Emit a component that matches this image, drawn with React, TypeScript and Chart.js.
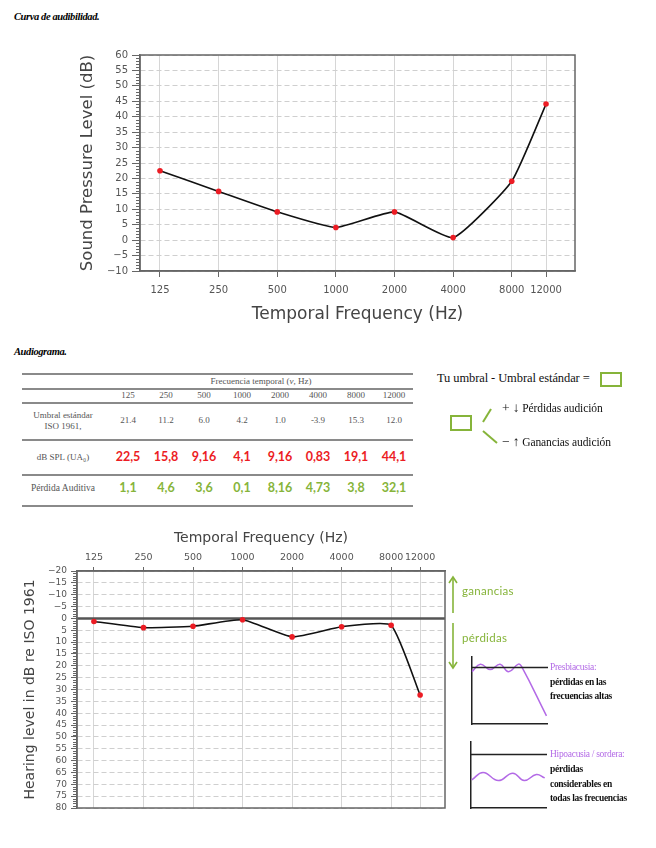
import React, { useEffect, useRef } from 'react';
import { Chart, registerables } from 'chart.js';

Chart.register(...registerables);

// ---------- data ----------
const freqs = [125, 250, 500, 1000, 2000, 4000, 8000, 12000];
const splValues = [22.5, 15.8, 9.16, 4.1, 9.16, 0.83, 19.1, 44.1];
const hearingLevel = [1.3, 3.9, 3.3, 0.6, 7.8, 3.5, 2.9, 32.3];

const isoThreshold = ['21.4', '11.2', '6.0', '4.2', '1.0', '-3.9', '15.3', '12.0'];
const splLabels = ['22,5', '15,8', '9,16', '4,1', '9,16', '0,83', '19,1', '44,1'];
const lossLabels = ['1,1', '4,6', '3,6', '0,1', '8,16', '4,73', '3,8', '32,1'];

// sketch curves (arbitrary 0..10 units)
const presbyRefX = [0, 10];
const presbyRefY = [8.3, 8.3];
const presbyWaveX = [0, 1.1, 2.4, 3.7, 4.8, 6.1, 6.5, 9.8];
const presbyWaveY = [7.7, 8.8, 8.0, 8.8, 7.7, 8.8, 8.5, 1.2];
const hipoRefX = [0, 10];
const hipoRefY = [8.0, 8.0];
const hipoWaveX = [0.1, 1.6, 3.6, 5.5, 7.0, 8.6, 9.7];
const hipoWaveY = [4.2, 5.3, 4.1, 5.2, 4.1, 5.0, 4.5];

// ---------- helpers ----------
const SANS = 'DejaVu Sans';
const SERIF = '"Liberation Serif", "DejaVu Serif", serif';
const HAND = 'Lato, "Noto Sans", sans-serif';
const RED = '#ec1c24';
const GREEN = '#86b43a';
const PURPLE = '#b36ae6';

const fmtNum = (v: any) => (Number(v) < 0 ? '\u2212' + Math.abs(Number(v)) : String(v));

const framePlugin = {
  id: 'frame',
  beforeDatasetsDraw(chart: any, _a: any, opts: any) {
    if (!opts || !opts.zeroLine) return;
    const { ctx, chartArea: a } = chart;
    const y = chart.scales.y;
    const py = y.getPixelForValue(0);
    ctx.save();
    ctx.strokeStyle = '#555';
    ctx.lineWidth = 2.5;
    ctx.beginPath();
    ctx.moveTo(a.left, py);
    ctx.lineTo(a.right, py);
    ctx.stroke();
    ctx.restore();
  },
  afterDraw(chart: any) {
    const { ctx, chartArea: a } = chart;
    const y = chart.scales.y;
    ctx.save();
    ctx.strokeStyle = '#666';
    ctx.lineWidth = 1;
    for (let v = Math.ceil(Math.min(y.min, y.max)); v <= Math.max(y.min, y.max); v++) {
      if (v % 5 === 0) continue;
      const py = Math.round(y.getPixelForValue(v)) + 0.5;
      ctx.beginPath();
      ctx.moveTo(a.left - 4, py);
      ctx.lineTo(a.left, py);
      ctx.stroke();
    }
    ctx.strokeStyle = '#666';
    ctx.lineWidth = 1.5;
    ctx.strokeRect(a.left, a.top, a.right - a.left, a.bottom - a.top);
    ctx.restore();
  },
};

function ChartBox(props: { left: number; top: number; width: number; height: number; make: () => any }) {
  const ref = useRef<HTMLCanvasElement>(null);
  useEffect(() => {
    const chart = new Chart(ref.current as HTMLCanvasElement, props.make());
    return () => chart.destroy();
  }, []);
  return (
    <canvas
      ref={ref}
      width={props.width}
      height={props.height}
      style={{ position: 'absolute', left: props.left, top: props.top, width: props.width, height: props.height }}
    />
  );
}

function T(props: { x: number; y: number; center?: boolean; style?: any; children: any }) {
  return (
    <div
      style={{
        position: 'absolute',
        left: props.x,
        top: props.y,
        transform: props.center ? 'translate(-50%,-50%)' : 'translate(0,-50%)',
        lineHeight: 1,
        whiteSpace: 'nowrap',
        ...props.style,
      }}
    >
      {props.children}
    </div>
  );
}

// ---------- chart configs ----------
const makeSpl = () => ({
  type: 'line',
  data: {
    datasets: [
      {
        data: freqs.map((f, i) => ({ x: f, y: splValues[i] })),
        borderColor: '#111',
        borderWidth: 1.6,
        tension: 0.15,
        pointRadius: 2.8,
        pointBackgroundColor: RED,
        pointBorderWidth: 0,
        fill: false,
      },
    ],
  },
  options: {
    responsive: false,
    animation: false,
    devicePixelRatio: 1,
    layout: { padding: { top: 15, right: 25, bottom: 0, left: 0 } },
    plugins: { legend: { display: false }, tooltip: { enabled: false }, frame: {} },
    scales: {
      x: {
        type: 'logarithmic',
        min: 98.7,
        max: 16900,
        afterBuildTicks: (s: any) => {
          s.ticks = freqs.map((v) => ({ value: v }));
        },
        ticks: { autoSkip: false, maxRotation: 0, font: { family: SANS, size: 10 }, color: '#555', padding: 7, callback: (v: any) => String(v) },
        grid: { color: '#d6d6d6', tickColor: '#666', tickLength: 6, lineWidth: 1 },
        border: { color: '#666', width: 1.5 },
        title: { display: true, text: 'Temporal Frequency (Hz)', font: { family: SANS, size: 17 }, color: '#444', padding: { top: 0, bottom: 15 } },
        afterFit: (s: any) => {
          s.height = 69;
        },
      },
      y: {
        min: -10,
        max: 60,
        ticks: { stepSize: 5, autoSkip: false, font: { family: SANS, size: 10 }, color: '#555', padding: 4, callback: fmtNum },
        grid: { color: '#cfcfcf', tickColor: '#666', tickLength: 8 },
        border: { color: '#666', width: 1.5, dash: [5, 3] },
        title: { display: true, text: 'Sound Pressure Level (dB)', font: { family: SANS, size: 16.5 }, color: '#444', padding: { top: 8, bottom: 0 } },
        afterFit: (s: any) => {
          s.width = 70;
        },
      },
    },
  },
  plugins: [framePlugin],
});

const makeHl = () => ({
  type: 'line',
  data: {
    datasets: [
      {
        data: freqs.map((f, i) => ({ x: f, y: hearingLevel[i] })),
        borderColor: '#111',
        borderWidth: 1.6,
        tension: 0.15,
        pointRadius: 2.8,
        pointBackgroundColor: RED,
        pointBorderWidth: 0,
        fill: false,
      },
    ],
  },
  options: {
    responsive: false,
    animation: false,
    devicePixelRatio: 1,
    layout: { padding: { top: 0, right: 10, bottom: 12, left: 0 } },
    plugins: { legend: { display: false }, tooltip: { enabled: false }, frame: { zeroLine: true } },
    scales: {
      x: {
        type: 'logarithmic',
        position: 'top',
        min: 98.6,
        max: 17000,
        afterBuildTicks: (s: any) => {
          s.ticks = freqs.map((v) => ({ value: v }));
        },
        ticks: { autoSkip: false, maxRotation: 0, font: { family: SANS, size: 9.5 }, color: '#555', padding: 4, callback: (v: any) => String(v) },
        grid: { color: '#d6d6d6', tickColor: '#666', tickLength: 4, lineWidth: 1 },
        border: { color: '#666', width: 1.5 },
        title: { display: true, text: 'Temporal Frequency (Hz)', font: { family: SANS, size: 14 }, color: '#444', padding: { top: 10, bottom: 0 } },
        afterFit: (s: any) => {
          s.height = 51;
        },
      },
      y: {
        reverse: true,
        min: -20,
        max: 80,
        ticks: { stepSize: 5, autoSkip: false, font: { family: SANS, size: 9 }, color: '#555', padding: 4, callback: fmtNum },
        grid: { color: '#cfcfcf', tickColor: '#666', tickLength: 6 },
        border: { color: '#666', width: 1.5, dash: [5, 3] },
        title: { display: true, text: 'Hearing level in dB re ISO 1961', font: { family: SANS, size: 14 }, color: '#444', padding: { top: 12, bottom: 0 } },
        afterFit: (s: any) => {
          s.width = 67;
        },
      },
    },
  },
  plugins: [framePlugin],
});

const makeSketch = (rx: number[], ry: number[], wx: number[], wy: number[]) => () => ({
  type: 'line',
  data: {
    datasets: [
      {
        data: rx.map((x, i) => ({ x, y: ry[i] })),
        borderColor: '#222',
        borderWidth: 1.5,
        pointRadius: 0,
        tension: 0,
        clip: false,
      },
      {
        data: wx.map((x, i) => ({ x, y: wy[i] })),
        borderColor: PURPLE,
        borderWidth: 1.5,
        pointRadius: 0,
        tension: 0.45,
        clip: false,
      },
    ],
  },
  options: {
    responsive: false,
    animation: false,
    devicePixelRatio: 1,
    layout: { padding: { top: 0, right: 0, bottom: 2, left: 2 } },
    plugins: { legend: { display: false }, tooltip: { enabled: false } },
    scales: {
      x: {
        type: 'linear',
        min: 0,
        max: 10,
        ticks: { display: false },
        grid: { display: false, drawTicks: false },
        border: { display: true, color: '#222', width: 1.5 },
        afterFit: (s: any) => {
          s.height = 0;
        },
      },
      y: {
        min: 0,
        max: 10,
        ticks: { display: false },
        grid: { display: false, drawTicks: false },
        border: { display: true, color: '#222', width: 1.5 },
        afterFit: (s: any) => {
          s.width = 0;
        },
      },
    },
  },
});

// ---------- table layout ----------
const colX = (i: number) => 128 + i * 38;
const tblText = { fontFamily: SERIF, fontSize: 9, color: '#555' };
const rule = (y: number) => (
  <div key={'r' + y} style={{ position: 'absolute', left: 22, top: y, width: 391, height: 1.5, background: '#8a8a8a' }} />
);
const noteText = { fontFamily: SERIF, fontSize: 9.5, color: '#111', fontWeight: 'bold', letterSpacing: -0.3 };

export default function App() {
  return (
    <div style={{ position: 'absolute', left: 0, top: 0, width: 656, height: 848, background: '#fff', overflow: 'hidden' }}>
      <T x={14} y={17} style={{ fontFamily: SERIF, fontStyle: 'italic', fontWeight: 'bold', fontSize: 10.5, letterSpacing: -0.4 }}>
        Curva de audibilidad.
      </T>

      <ChartBox left={70} top={40} width={530} height={300} make={makeSpl} />

      <T x={14} y={352} style={{ fontFamily: SERIF, fontStyle: 'italic', fontWeight: 'bold', fontSize: 10.5, letterSpacing: -0.4 }}>
        Audiograma.
      </T>

      {/* table */}
      {[373, 388, 402, 439, 474, 505].map(rule)}
      <T x={261} y={381} center style={tblText}>
        Frecuencia temporal (<i>ν</i>, Hz)
      </T>
      {freqs.map((f, i) => (
        <T key={'f' + i} x={colX(i)} y={395} center style={tblText}>
          {String(f)}
        </T>
      ))}
      <T x={63} y={415} center style={tblText}>
        Umbral estándar
      </T>
      <T x={63} y={426} center style={tblText}>
        ISO 1961,
      </T>
      {isoThreshold.map((v, i) => (
        <T key={'iso' + i} x={colX(i)} y={420} center style={tblText}>
          {v}
        </T>
      ))}
      <T x={63} y={457} center style={tblText}>
        dB SPL (UA₀)
      </T>
      {splLabels.map((v, i) => (
        <T key={'spl' + i} x={colX(i)} y={457} center style={{ fontFamily: HAND, fontWeight: 700, fontSize: 12.5, color: RED }}>
          {v}
        </T>
      ))}
      <T x={63} y={489} center style={{ ...tblText, fontSize: 9.5 }}>
        Pérdida Auditiva
      </T>
      {lossLabels.map((v, i) => (
        <T key={'loss' + i} x={colX(i)} y={488} center style={{ fontFamily: HAND, fontWeight: 700, fontSize: 12.5, color: GREEN }}>
          {v}
        </T>
      ))}

      {/* formula annotation */}
      <T x={437} y={378} style={{ fontFamily: SERIF, fontSize: 12.5, color: '#111', letterSpacing: -0.1 }}>
        Tu umbral - Umbral estándar =
      </T>
      <div style={{ position: 'absolute', left: 600, top: 372, width: 18, height: 11, border: '2px solid ' + GREEN }} />
      <div style={{ position: 'absolute', left: 450, top: 415, width: 18, height: 12, border: '2px solid ' + GREEN }} />
      <svg width={656} height={848} style={{ position: 'absolute', left: 0, top: 0 }}>
        <line x1={491} y1={409} x2={483} y2={422} stroke={GREEN} strokeWidth={2} />
        <line x1={483} y1={431} x2={497} y2={443} stroke={GREEN} strokeWidth={2} />
        {/* up arrow */}
        <line x1={453} y1={578} x2={453} y2={613} stroke={GREEN} strokeWidth={1.6} />
        <polyline points="449,583 453,577 457,583" fill="none" stroke={GREEN} strokeWidth={1.6} />
        {/* down arrow */}
        <line x1={453} y1={623} x2={453} y2={667} stroke={GREEN} strokeWidth={1.6} />
        <polyline points="449,662 453,668 457,662" fill="none" stroke={GREEN} strokeWidth={1.6} />
      </svg>
      <T x={502} y={408} style={{ fontFamily: SERIF, fontSize: 11.5, color: '#111', letterSpacing: -0.1 }}>
        <span style={{ fontSize: 13.5 }}>+ ↓</span> Pérdidas audición
      </T>
      <T x={502} y={442} style={{ fontFamily: SERIF, fontSize: 11.5, color: '#111', letterSpacing: -0.1 }}>
        <span style={{ fontSize: 13.5 }}>− ↑</span> Ganancias audición
      </T>

      <ChartBox left={10} top={520} width={445} height={300} make={makeHl} />

      <T x={462} y={591} style={{ fontFamily: HAND, fontSize: 11.5, color: GREEN, letterSpacing: 0.3 }}>
        ganancias
      </T>
      <T x={462} y={638} style={{ fontFamily: HAND, fontSize: 11.5, color: GREEN, letterSpacing: 0.3 }}>
        pérdidas
      </T>

      <ChartBox left={470} top={656} width={78} height={70} make={makeSketch(presbyRefX, presbyRefY, presbyWaveX, presbyWaveY)} />
      <T x={550} y={668} style={{ fontFamily: SERIF, fontSize: 9.5, color: PURPLE, letterSpacing: -0.3 }}>
        Presbiacusia:
      </T>
      <T x={550} y={683} style={noteText}>
        pérdidas en las
      </T>
      <T x={550} y={697} style={noteText}>
        frecuencias altas
      </T>

      <ChartBox left={469} top={741} width={78} height={69} make={makeSketch(hipoRefX, hipoRefY, hipoWaveX, hipoWaveY)} />
      <T x={550} y={755} style={{ fontFamily: SERIF, fontSize: 9.5, color: PURPLE, letterSpacing: -0.3 }}>
        Hipoacusia / sordera:
      </T>
      <T x={550} y={770} style={noteText}>
        pérdidas
      </T>
      <T x={550} y={785} style={noteText}>
        considerables en
      </T>
      <T x={550} y={799} style={noteText}>
        todas las frecuencias
      </T>
    </div>
  );
}
